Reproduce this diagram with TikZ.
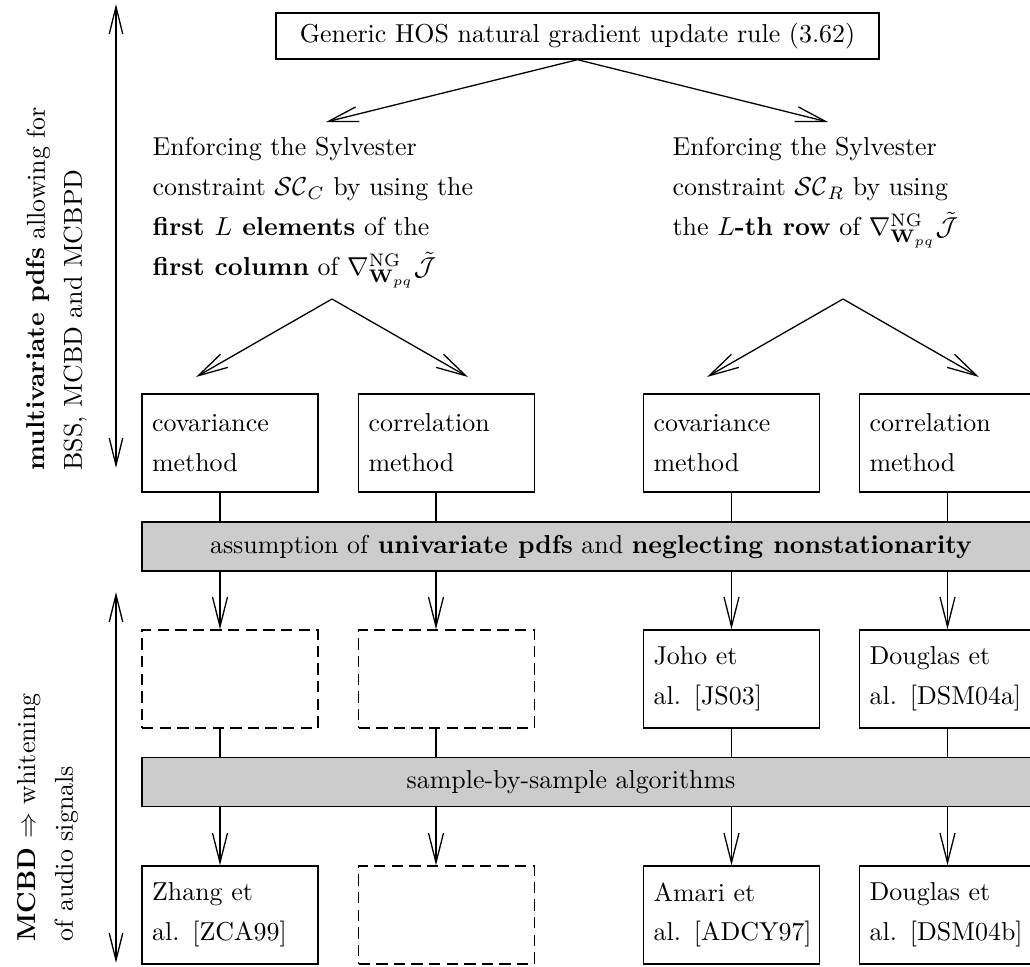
\documentclass[tikz,border=0pt]{standalone}
\usetikzlibrary{arrows.meta}
\begin{document}
\begin{tikzpicture}[x=0.386pt,y=-0.386pt,
  every node/.style={font=\fontsize{10}{15.4}\selectfont},
  line width=0.5pt,
  tip/.style={-{Straight Barb[length=11.5pt,width=5.8pt]}},
  dtip/.style={{Straight Barb[length=10.5pt,width=5.2pt]}-{Straight Barb[length=10.5pt,width=5.2pt]}},
  box/.style={draw, minimum width=67.9pt, minimum height=37.8pt, text width=60.1pt, inner xsep=3.9pt, inner ysep=0pt, align=left},
  dbox/.style={box, dash pattern=on 4.4pt off 2.4pt},
  band/.style={draw, fill=black!20, minimum width=369.8pt, minimum height=18.9pt, inner sep=0pt},
  side/.style={rotate=90, anchor=base west, inner sep=0pt},
  para/.style={align=left, anchor=north west, inner sep=0pt},
]
\useasboundingbox (0,0) rectangle (1030,967);
\clip (0,0) rectangle (1030,967);

% side labels and arrows
\node[side] (s1a) at (45,471) {\textbf{multivariate pdfs} allowing for};
\node[side] (s1b) at (82,471) {BSS, MCBD and MCBPD};
\node[side] (s2a) at (35,942) {\textbf{MCBD} $\Rightarrow$ whitening};
\node[side] (s2b) at (73,942) {of audio signals};
\coordinate (u1) at (116,4);
\coordinate (u2) at (116,468);
\coordinate (v1) at (116,592);
\coordinate (v2) at (116,963);
\draw[dtip] (u1) -- (u2);
\draw[dtip] (v1) -- (v2);

% top
\node[draw, minimum width=232.8pt, minimum height=17.8pt, inner sep=0pt] (top) at (577.5,36) {Generic HOS natural gradient update rule (3.62)};
\coordinate (tl) at (326,122);
\coordinate (tr) at (828,122);
\draw[tip] (top.south) -- (tl);
\draw[tip] (top.south) -- (tr);

% text blocks
\node[para] (lt) at (152,137) {Enforcing the Sylvester\\constraint $\mathcal{SC}_C$ by using the\\\textbf{first $L$ elements} of the\\\textbf{first column} of $\nabla^{\mathrm{NG}}_{\mathbf{W}_{pq}}\tilde{\mathcal{J}}$};
\node[para] (rt) at (672,137) {Enforcing the Sylvester\\constraint $\mathcal{SC}_R$ by using\\the $L$\textbf{-th row} of $\nabla^{\mathrm{NG}}_{\mathbf{W}_{pq}}\tilde{\mathcal{J}}$};

\coordinate (la) at (332,299);
\coordinate (ra) at (843,299);
\coordinate (la1) at (196,377);
\coordinate (la2) at (468,377);
\coordinate (ra1) at (707,377);
\coordinate (ra2) at (979,377);
\draw[tip] (la) -- (la1);
\draw[tip] (la) -- (la2);
\draw[tip] (ra) -- (ra1);
\draw[tip] (ra) -- (ra2);

% row 1
\node[box] (b1) at (230,443) {covariance\\method};
\node[box] (b2) at (446.5,443) {correlation\\method};
\node[box] (b3) at (731.5,443) {covariance\\method};
\node[box] (b4) at (947.5,443) {correlation\\method};

% band 1
\node[band] (band1) at (621,546.5) {};
\node (bt1) at (591,546.5) {assumption of \textbf{univariate pdfs} and \textbf{neglecting nonstationarity}};

% row 2
\node[dbox] (d1) at (230,679) {};
\node[dbox] (d2) at (446.5,679) {};
\node[box] (j3) at (731.5,679) {Joho et\\\mbox{al. [JS03]}};
\node[box] (j4) at (947.5,679) {Douglas et\\\mbox{al. [DSM04a]}};

% band 2
\node[band] (band2) at (621,782) {};
\node (bt2) at (571,782) {sample-by-sample algorithms};

% row 3
\node[box] (z1) at (230,915) {Zhang et\\\mbox{al. [ZCA99]}};
\node[dbox] (z2) at (446.5,915) {};
\node[box] (z3) at (731.5,915) {Amari et\\\mbox{al. [ADCY97]}};
\node[box] (z4) at (947.5,915) {Douglas et\\\mbox{al. [DSM04b]}};

% columns
\coordinate (c1) at (220,0);
\coordinate (c2) at (436,0);
\coordinate (c3) at (731.5,0);
\coordinate (c4) at (947.5,0);

\foreach \c/\a/\b in {c1/b1/d1, c2/b2/d2, c3/b3/j3, c4/b4/j4} {
  \draw (\c |- \a.south) -- (\c |- band1.north);
  \draw[tip] (\c |- band1.south) -- (\c |- \b.north);
}
\foreach \c/\a/\b in {c1/d1/z1, c2/d2/z2, c3/j3/z3, c4/j4/z4} {
  \draw (\c |- \a.south) -- (\c |- band2.north);
  \draw[tip] (\c |- band2.south) -- (\c |- \b.north);
}
\end{tikzpicture}
\end{document}
